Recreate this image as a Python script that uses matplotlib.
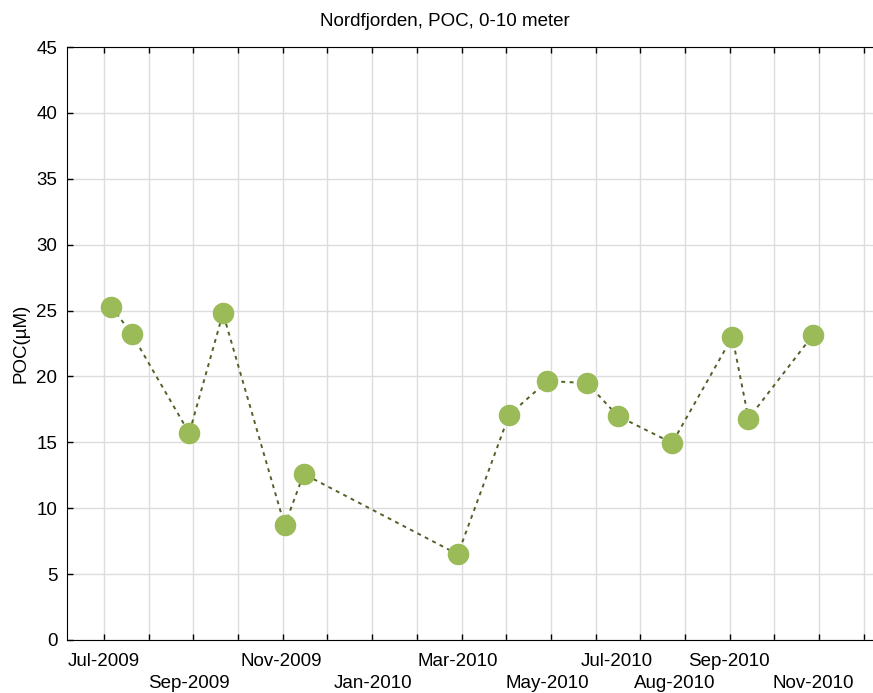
import numpy as np
import matplotlib as mpl
mpl.use('Agg')
import matplotlib.pyplot as plt
import matplotlib.dates as mdates

mpl.rcParams['font.family'] = ['Liberation Sans', 'DejaVu Sans']
mpl.rcParams['font.size'] = 13.5

# sample dates and POC values (uM)
dates = ['2009-07-06', '2009-07-20', '2009-08-28', '2009-09-20', '2009-11-01',
         '2009-11-14', '2010-02-27', '2010-04-03', '2010-04-29', '2010-05-26',
         '2010-06-16', '2010-07-23', '2010-09-02', '2010-09-13', '2010-10-27']
poc = [25.3, 23.2, 15.7, 24.8, 8.7, 12.6, 6.5, 17.1, 19.65, 19.5,
       17.0, 14.95, 23.0, 16.8, 23.15]

# x-axis labels (text, position date)
xlabels = ['Jul-2009', 'Sep-2009', 'Nov-2009', 'Jan-2010', 'Mar-2010',
           'May-2010', 'Jul-2010', 'Aug-2010', 'Sep-2010', 'Nov-2010']
xlabel_dates = ['2009-07-01', '2009-08-28', '2009-10-30', '2009-12-31', '2010-02-27',
                '2010-04-29', '2010-06-15', '2010-07-25', '2010-08-31', '2010-10-27']

x = mdates.datestr2num(dates)
xl = mdates.datestr2num(xlabel_dates)

start = mdates.datestr2num('2009-07-01')
month = 365.25 / 12
ticks = start + month * np.arange(18)

fig = plt.figure(figsize=(8.73, 6.93), dpi=100)
ax = fig.add_axes([67/873, 53/693, 806/873, 593/693])

ax.plot(x, poc, ls=(0, (2, 2.3)), lw=1.4, c='#4F6228', zorder=3)
ax.plot(x, poc, ls='none', marker='o', ms=14.5, mfc='#9BBB59', mec='#9BBB59', zorder=4)

ax.set_xlim(start - 0.83 * month, start + 17.21 * month)
ax.set_ylim(0, 45)
ax.set_yticks(np.arange(0, 46, 5))
ax.set_xticks(ticks)
ax.set_xticklabels([])
ax.grid(True, color='#dcdcdc', lw=1)
ax.set_axisbelow(True)
ax.tick_params(direction='in', length=4, top=True, width=1, labelsize=13.5)
ax.tick_params(axis='y', pad=7)
ax.spines['right'].set_visible(False)

for i, (lab, xv) in enumerate(zip(xlabels, xl)):
    off = -22 if i % 2 == 0 else -44
    ax.annotate(lab, xy=(xv, 0), xycoords=('data', 'axes fraction'),
                xytext=(0, off), textcoords='offset pixels',
                ha='center', va='center', fontsize=13.5)

ax.set_ylabel('POC(µM)', fontsize=13.5, labelpad=5)
fig.text(445/873, 1 - 22/693, 'Nordfjorden, POC, 0-10 meter',
         ha='center', va='center', fontsize=13.5)

fig.savefig('out.png', dpi=100)
